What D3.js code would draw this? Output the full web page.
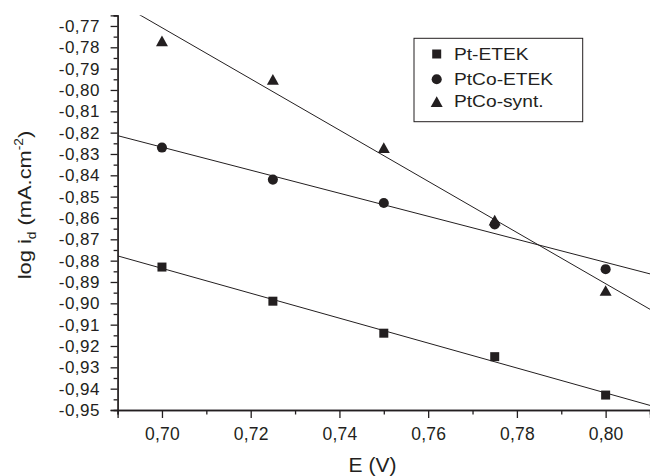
<!DOCTYPE html>
<html>
<head>
<meta charset="utf-8">
<script src="https://cdn.jsdelivr.net/npm/d3@7"></script>
<style>
body { margin: 0; background: #fff; }
text { font-family: "Liberation Sans", Arial, sans-serif; fill: #231f20; }
</style>
</head>
<body>
<div id="container"></div>
<script>
// E (V) values shared by all series
const potentials = [0.70, 0.725, 0.75, 0.775, 0.80];
// log id values
const ptEtek = [-0.883, -0.899, -0.914, -0.925, -0.943];
const ptCoEtek = [-0.827, -0.842, -0.853, -0.863, -0.884];
const ptCoSynt = [-0.777, -0.795, -0.827, -0.861, -0.894];
const seriesNames = ["Pt-ETEK", "PtCo-ETEK", "PtCo-synt."];

const xTicks = [0.70, 0.72, 0.74, 0.76, 0.78, 0.80];
const xMinorTicks = [0.69, 0.71, 0.73, 0.75, 0.77, 0.79, 0.81];
const yTicks = [-0.95, -0.94, -0.93, -0.92, -0.91, -0.90, -0.89, -0.88, -0.87,
    -0.86, -0.85, -0.84, -0.83, -0.82, -0.81, -0.80, -0.79, -0.78, -0.77];

const width = 650;
const height = 476;
const plotLeft = 117.6, plotRight = 650, plotTop = 15.3, plotBottom = 410;
const ink = "#231f20";

const locale = d3.formatLocale({decimal: ",", thousands: ".", grouping: [3], currency: ["", ""], minus: "-"});
const fmt = locale.format(".2f");

const x = d3.scaleLinear().domain([0.69, 0.81]).range([plotLeft, plotRight]);
const y = d3.scaleLinear().domain([-0.95, -0.765]).range([plotBottom, plotTop]);

// triangle centred on its bounding box (like the original plotting program)
const triangle = {
    draw(ctx, size) {
        const w = Math.sqrt(size);
        const h = w * 0.89;
        ctx.moveTo(0, -h / 2);
        ctx.lineTo(w / 2, h / 2);
        ctx.lineTo(-w / 2, h / 2);
        ctx.closePath();
    }
};

const series = [
    {name: seriesNames[0], values: ptEtek, symbol: d3.symbolSquare, size: 81},
    {name: seriesNames[1], values: ptCoEtek, symbol: d3.symbolCircle, size: 80},
    {name: seriesNames[2], values: ptCoSynt, symbol: triangle, size: 144}
];

function fit(xs, ys) {
    const mx = d3.mean(xs), my = d3.mean(ys);
    const sxy = d3.sum(xs, (v, i) => (v - mx) * (ys[i] - my));
    const sxx = d3.sum(xs, v => (v - mx) * (v - mx));
    const b = sxy / sxx;
    return v => my + b * (v - mx);
}

const svg = d3.select("#container").append("svg")
    .attr("width", width)
    .attr("height", height);

svg.append("defs").append("clipPath").attr("id", "plot")
    .append("rect")
    .attr("x", plotLeft).attr("y", plotTop)
    .attr("width", plotRight - plotLeft).attr("height", plotBottom - plotTop);

// fitted lines
const line = d3.line().x(d => x(d[0])).y(d => y(d[1]));
series.forEach(s => {
    const f = fit(potentials, s.values);
    const ends = x.domain().map(v => [v, f(v)]);
    svg.append("path")
        .attr("clip-path", "url(#plot)")
        .attr("d", line(ends))
        .attr("fill", "none")
        .attr("stroke", ink)
        .attr("stroke-width", 1);
});

// markers
series.forEach(s => {
    svg.append("g").selectAll("path")
        .data(s.values)
        .join("path")
        .attr("transform", (d, i) => `translate(${x(potentials[i])},${y(d)})`)
        .attr("d", d3.symbol(s.symbol, s.size))
        .attr("fill", ink);
});

// axes
function styleAxis(size, spacing) {
    return g => {
        g.select(".domain").attr("stroke", ink).attr("stroke-width", 1.3);
        g.selectAll(".tick line").attr("stroke", ink).attr("stroke-width", 1.3);
        g.selectAll(".tick text").attr("fill", ink)
            .attr("font-family", null)
            .style("font-size", size + "px")
            .style("letter-spacing", spacing + "px");
    };
}

svg.append("g")
    .attr("transform", `translate(0,${plotBottom})`)
    .call(d3.axisBottom(x).tickValues(xMinorTicks).tickSize(4.5).tickFormat(""))
    .call(styleAxis(17.5, 0));
svg.append("g")
    .attr("transform", `translate(0,${plotBottom})`)
    .call(d3.axisBottom(x).tickValues(xTicks).tickSize(8).tickPadding(10).tickFormat(fmt))
    .call(styleAxis(17.5, 0.2));

const yMinor = yTicks.map(v => v + 0.005);
svg.append("g")
    .attr("transform", `translate(${plotLeft},0)`)
    .call(d3.axisLeft(y).tickValues(yMinor).tickSize(4).tickFormat(""))
    .call(styleAxis(17, 0));
svg.append("g")
    .attr("transform", `translate(${plotLeft},0)`)
    .call(d3.axisLeft(y).tickValues(yTicks).tickSize(7).tickPadding(10.6).tickFormat(fmt))
    .call(styleAxis(17, 0.5));

// axis titles
svg.append("text")
    .attr("x", 372.5)
    .attr("y", 472)
    .attr("text-anchor", "middle")
    .style("font-size", "21px")
    .text("E (V)");

const yTitle = svg.append("text")
    .attr("transform", "translate(31,205) rotate(-90) scale(1.15,1)")
    .attr("text-anchor", "middle")
    .style("font-size", "19px");
yTitle.append("tspan").text("log i");
yTitle.append("tspan").attr("dy", 5).style("font-size", "12px").text("d");
yTitle.append("tspan").attr("dy", -5).text(" (mA.cm");
yTitle.append("tspan").attr("dy", -8).style("font-size", "12px").text("-2");
yTitle.append("tspan").attr("dy", 8).text(")");

// legend
const legend = svg.append("g");
legend.append("rect")
    .attr("x", 414).attr("y", 38.3)
    .attr("width", 168.7).attr("height", 83.4)
    .attr("fill", "#fff")
    .attr("stroke", ink)
    .attr("stroke-width", 1);
const rows = [54, 79.3, 101.7];
series.forEach((s, i) => {
    legend.append("path")
        .attr("transform", `translate(436.7,${rows[i]})`)
        .attr("d", d3.symbol(s.symbol, s.size))
        .attr("fill", ink);
    legend.append("text")
        .attr("transform", `translate(454,${rows[i]}) scale(1.2,1)`)
        .attr("dy", "0.36em")
        .style("font-size", "16px")
        .text(s.name);
});
</script>
</body>
</html>
